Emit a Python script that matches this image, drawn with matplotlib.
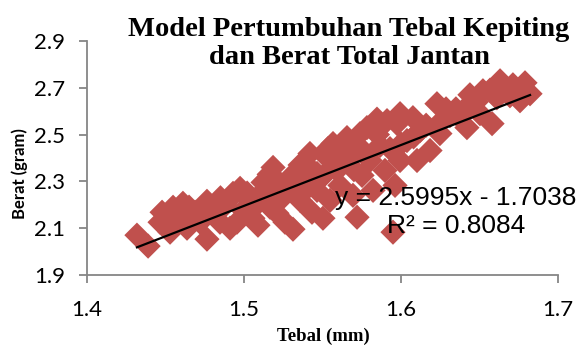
import matplotlib
matplotlib.use("Agg")
import matplotlib.pyplot as plt
import numpy as np

# Data (Tebal mm, Berat gram)
tebal = [1.4318, 1.4389, 1.4465, 1.4478, 1.4529, 1.4548, 1.4580, 1.4611, 1.4637, 1.4688,
         1.4720, 1.4764, 1.4764, 1.4803, 1.4847, 1.4879, 1.4911, 1.4930, 1.4975, 1.4994,
         1.4955, 1.5038, 1.5057, 1.5089, 1.5121, 1.5146, 1.5166, 1.5185, 1.5210, 1.5210,
         1.5248, 1.5261, 1.5293, 1.5312, 1.5357, 1.5376, 1.5408, 1.5420, 1.5433, 1.5465,
         1.5465, 1.5503, 1.5529, 1.5548, 1.5567, 1.5592, 1.5611, 1.5656, 1.5675, 1.5694,
         1.5720, 1.5739, 1.5752, 1.5783, 1.5803, 1.5822, 1.5847, 1.5866, 1.5898, 1.5911,
         1.5949, 1.5962, 1.5994, 1.5994, 1.6038, 1.6076, 1.6102, 1.6121, 1.6185, 1.6229,
         1.6248, 1.6312, 1.6376, 1.6420, 1.6439, 1.6503, 1.6522, 1.6580, 1.6611, 1.6631,
         1.6694, 1.6713, 1.6758, 1.6790, 1.6822,
         1.5847, 1.5739, 1.5975, 1.6287, 1.6439, 1.6567, 1.6650, 1.6713, 1.5643, 1.5535,
         1.5465, 1.5280, 1.5357, 1.5850, 1.5930, 1.4650, 1.4850, 1.5020, 1.5140, 1.5610,
         1.4560, 1.4740, 1.4900, 1.5080, 1.5230, 1.5330, 1.5500, 1.5580, 1.5700, 1.5780,
         1.6000, 1.6080, 1.6160, 1.6260, 1.6350, 1.6480, 1.6600, 1.6750, 1.5160, 1.5400]
berat = [2.0702, 2.0234, 2.1255, 2.1681, 2.0830, 2.1894, 2.1340, 2.2064, 2.1000, 2.1681,
         2.1255, 2.2149, 2.0532, 2.1638, 2.1255, 2.1979, 2.1000, 2.2489, 2.2702, 2.1766,
         2.1255, 2.2191, 2.1426, 2.1128, 2.2957, 2.2404, 2.1894, 2.3596, 2.3043, 2.1638,
         2.2489, 2.1255, 2.3170, 2.0957, 2.2191, 2.3340, 2.2745, 2.4191, 2.1681, 2.3340,
         2.2617, 2.1426, 2.4021, 2.2191, 2.4617, 2.3468, 2.2830, 2.4872, 2.4021, 2.2404,
         2.1468, 2.4447, 2.3255, 2.5298, 2.3894, 2.2617, 2.5468, 2.4532, 2.3468, 2.5596,
         2.0830, 2.2830, 2.5894, 2.3894, 2.4745, 2.5723, 2.3894, 2.5170, 2.4319, 2.6319,
         2.5043, 2.5809, 2.5723, 2.5298, 2.6319, 2.5894, 2.6872, 2.5468, 2.6574, 2.7298,
         2.6660, 2.7128, 2.6447, 2.7213, 2.6745,
         2.5660, 2.5040, 2.5470, 2.6100, 2.6700, 2.6900, 2.7000, 2.6900, 2.4300, 2.4400,
         2.3000, 2.2700, 2.3700, 2.5000, 2.4400, 2.1900, 2.2300, 2.2500, 2.2700, 2.3900,
         2.1500, 2.1800, 2.2200, 2.2000, 2.2200, 2.2700, 2.3200, 2.3700, 2.3500, 2.4100,
         2.4600, 2.4900, 2.5400, 2.5600, 2.6100, 2.6400, 2.6800, 2.6900, 2.3300, 2.3700]

slope, intercept = 2.5995, -1.7038
fit_x = [1.4318, 1.6822]

x_ticks = [1.4, 1.5, 1.6, 1.7]
y_ticks = [1.9, 2.1, 2.3, 2.5, 2.7, 2.9]

fig = plt.figure(figsize=(5.79, 3.45), dpi=100)
ax = fig.add_axes([0.1503, 0.2029, 0.8134, 0.6783])

ax.scatter(tebal, berat, marker='D', s=165, color='#C0504D', edgecolors='none', zorder=2)
fx = np.array(fit_x)
ax.plot(fx, slope * fx + intercept, color='black', lw=1.6, zorder=3)

ax.set_xlim(1.4, 1.7)
ax.set_ylim(1.9, 2.9)
ax.set_xticks(x_ticks)
ax.set_yticks(y_ticks)
ax.set_xticklabels([f"{v:.1f}" for v in x_ticks], fontfamily='Lato', fontsize=16)
ax.set_yticklabels([f"{v:.1f}" for v in y_ticks], fontfamily='Lato', fontsize=16)

for s in ['top', 'right']:
    ax.spines[s].set_visible(False)
for s in ['left', 'bottom']:
    ax.spines[s].set_color('#868686')
    ax.spines[s].set_linewidth(1.3)
ax.tick_params(axis='both', direction='out', length=6, width=1.3, color='#868686')
ax.tick_params(axis='x', pad=12)
ax.tick_params(axis='y', pad=10)

fig.text(349/579, 1 - 17/345, "Model Pertumbuhan Tebal Kepiting\ndan Berat Total Jantan",
         ha='center', va='top', fontfamily='Liberation Serif', fontweight='bold',
         fontsize=20.5, linespacing=1.15)

fig.text(456/579, 1 - 186/345, "y = 2.5995x - 1.7038\nR² = 0.8084", ha='center', va='top',
         fontfamily='Liberation Sans', fontsize=19, linespacing=1.2)

fig.text(323/579, 1 - 328/345, "Tebal (mm)", ha='center', va='top',
         fontfamily='Liberation Serif', fontweight='bold', fontsize=13.5)
fig.text(20/579, 1 - 174/345, "Berat (gram)", ha='center', va='center', rotation=90,
         fontfamily='Lato', fontweight='bold', fontsize=12)

fig.savefig("out.png", dpi=100)
